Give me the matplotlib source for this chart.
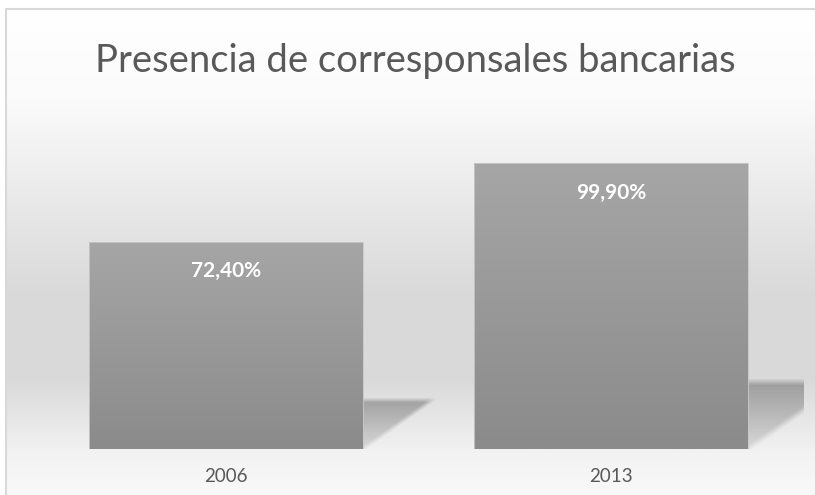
import matplotlib
matplotlib.use('Agg')
import matplotlib.pyplot as plt
import numpy as np
from matplotlib.colors import LinearSegmentedColormap

#Data
CATEGORIES = ['2006', '2013']
VALUES = [72.4, 99.9]
VALUE_LABELS = ['72,40%', '99,90%']
TITLE = 'Presencia de corresponsales bancarias'

#Plot settings
W, H = 815, 495
FONT = ['Lato', 'DejaVu Sans']
TEXT_COLOR = '#595959'
Y_MAX = 120
SHADOW_H = 0.235   # shadow height as fraction of bar height
SHADOW_W = 0.00247 # shadow width (x units) per value unit

fig = plt.figure(figsize=(W/100, H/100), dpi=100)

#Background gradient in pixel coords (y up)
bg = fig.add_axes([0, 0, 1, 1])
bg.set_xlim(0, W)
bg.set_ylim(0, H)
bg.axis('off')
bg_cmap = LinearSegmentedColormap.from_list('bg', [
    (0.0, '#ffffff'), (0.18, '#fbfbfb'), (0.58, '#dadada'),
    (0.76, '#d9d9d9'), (0.92, '#f3f3f3'), (1.0, '#f9f9f9')])
grad = np.linspace(0, 1, 256).reshape(-1, 1)
bg.imshow(grad, cmap=bg_cmap, extent=[6, W, 0, H - 9], aspect='auto', origin='upper')
bg.plot([6, 6, W], [0, H - 9, H - 9], color='#d9d9d9', lw=1.5)

#Main axes
ax = fig.add_axes([33/W, 46/H, 771/W, 343.5/H])
ax.patch.set_alpha(0)
ax.set_xlim(-0.5, 1.5)
ax.set_ylim(0, Y_MAX)
for s in ax.spines.values():
    s.set_visible(False)
ax.set_yticks([])
x = np.arange(len(CATEGORIES))
ax.set_xticks(x)
ax.set_xticklabels(CATEGORIES, fontsize=13.5, color=TEXT_COLOR, family=FONT)
ax.tick_params(axis='x', length=0, pad=14)

bars = ax.bar(x, VALUES, width=0.71, color='none', edgecolor='#c8c8c8', lw=0.6, zorder=3)

bar_cmap = LinearSegmentedColormap.from_list('bar', ['#a6a6a6', '#8b8b8b'])

#soft triangular shadow, built on a unit box (u: along x from bar edge, t: up)
n = 200
u, t = np.meshgrid(np.linspace(0, 1.1, n), np.linspace(1.1, 0, n))
edge = np.clip((t - u) / 0.12 + 0.5, 0, 1)
top = np.clip((1.0 - t) / 0.1 + 0.5, 0, 1)
fade = np.clip(0.1 + 0.18 * t, 0, 1)
shadow_rgba = np.zeros((n, n, 4))
shadow_rgba[..., 3] = edge * top * fade

for b, v in zip(bars, VALUES):
    x0 = b.get_x()
    x1 = x0 + b.get_width()
    sh_h = v * SHADOW_H
    sh_w = v * SHADOW_W
    ax.imshow(shadow_rgba, extent=[x1, x1 + 1.1 * sh_w, 0, 1.1 * sh_h],
              aspect='auto', interpolation='bilinear', zorder=1)
    #gradient fill for the bar
    im2 = ax.imshow(grad, cmap=bar_cmap, extent=[x0, x1, 0, v],
                    aspect='auto', origin='upper', zorder=2)
    im2.set_clip_path(b)

for xi, v, lab in zip(x, VALUES, VALUE_LABELS):
    ax.annotate(lab, (xi, v), xytext=(0, -14), textcoords='offset points',
                ha='center', va='top', color='white', fontsize=15,
                fontweight='bold', family=FONT, zorder=5)

ax.set_xlim(-0.5, 1.5)
ax.set_ylim(0, Y_MAX)

fig.text(415/W, 1 - 61/H, TITLE, ha='center', va='center', fontsize=27.5,
         color=TEXT_COLOR, family=FONT)

fig.savefig('out.png', dpi=100)
